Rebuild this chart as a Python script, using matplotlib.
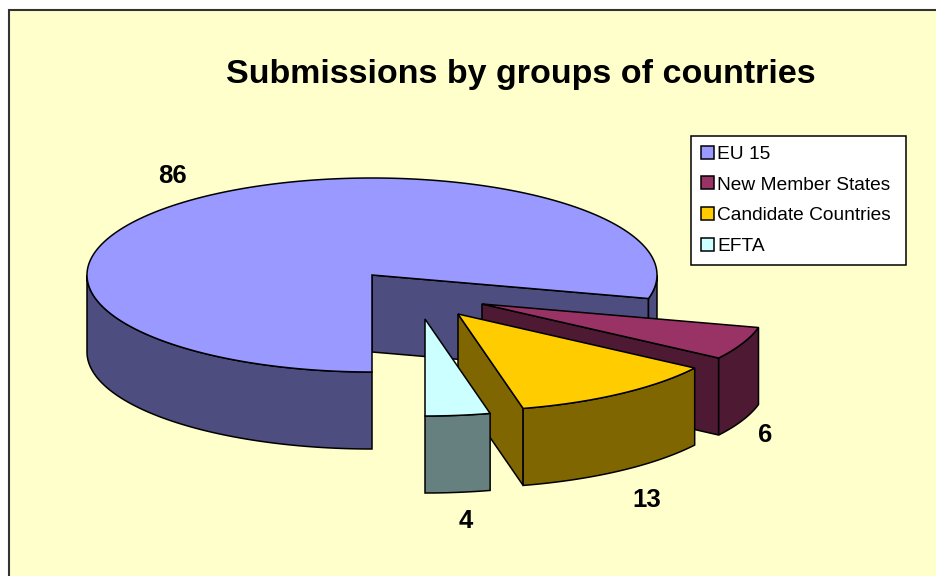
import numpy as np
import matplotlib
matplotlib.use('Agg')
import matplotlib.pyplot as plt
from matplotlib.patches import Polygon, Rectangle, Patch

plt.rcParams['font.family'] = ['Liberation Sans', 'DejaVu Sans']

# datos del grafico
grupos = ['EU 15', 'New Member States', 'Candidate Countries', 'EFTA']
valores = [86, 6, 13, 4]
colores_top = ['#9999FF', '#993366', '#FFCC00', '#CCFFFF']
colores_lado = ['#4D4D80', '#4D1933', '#806600', '#668080']

# desplazamiento de cada porcion respecto al centro (pixeles)
despl_x = [0, 110, 86, 53]
despl_y = [0, 29, 39, 44]
etiq_x = [172, 765, 647, 466]
etiq_y = [176, 435, 500, 521]

# geometria del pie en perspectiva
cx, cy = 372, 275
rx, ry = 285, 97
prof = 77
inicio = 180  # grados en sentido horario desde el norte


def punto(ang, ox, oy):
    a = np.radians(ang)
    return cx + ox + rx * np.sin(a), cy + oy - ry * np.cos(a)


def arco(a0, a1, ox, oy):
    angs = np.linspace(a0, a1, max(int(abs(a1 - a0)) * 2, 2))
    x, y = punto(angs, ox, oy)
    return np.column_stack([x, y])


def poner(ax, pts, color):
    ax.add_patch(Polygon(pts, closed=True, facecolor=color, edgecolor='black',
                         linewidth=1.1, joinstyle='miter'))


def porcion(ax, a0, a1, ox, oy, top, lado):
    apice = np.array([cx + ox, cy + oy])
    abajo = np.array([0, prof])
    # paredes radiales
    for ang, signo in [(a0, -1), (a1, 1)]:
        if signo * np.sin(np.radians(ang)) > 1e-6:
            borde = np.array(punto(ang, ox, oy))
            poner(ax, [apice, borde, borde + abajo, apice + abajo], lado)
    # pared exterior, solo la parte que mira al frente
    for k in [-1, 0, 1, 2]:
        v0, v1 = max(a0, 90 + 360 * k), min(a1, 270 + 360 * k)
        if v1 > v0:
            arriba = arco(v0, v1, ox, oy)
            poner(ax, np.vstack([arriba, (arriba + abajo)[::-1]]), lado)
    poner(ax, np.vstack([apice, arco(a0, a1, ox, oy)]), top)


fig = plt.figure(figsize=(9.37, 5.76), dpi=100, facecolor='white')
ax = fig.add_axes([0, 0, 1, 1])
ax.set_xlim(0, 937)
ax.set_ylim(576, 0)
ax.axis('off')

ax.add_patch(Rectangle((9, 10), 960, 600, facecolor='#FFFFCC', edgecolor='#333333', linewidth=1.5))

ax.text(521, 74, 'Submissions by groups of countries', fontsize=24.45, fontweight='bold',
        ha='center', va='center', color='black')

angulo = inicio
for i in range(len(valores)):
    paso = valores[i] / sum(valores) * 360
    porcion(ax, angulo, angulo + paso, despl_x[i], despl_y[i], colores_top[i], colores_lado[i])
    angulo += paso

for i in range(len(valores)):
    ax.text(etiq_x[i], etiq_y[i], str(valores[i]), fontsize=18.5, fontweight='bold',
            ha='center', va='center', color='black')

handles = [Patch(facecolor=c, edgecolor='black', linewidth=1.1) for c in colores_top]
ley = ax.legend(handles, grupos, loc='upper left',
                bbox_to_anchor=(691 / 937, 1 - 265 / 576, 215 / 937, 129 / 576),
                bbox_transform=fig.transFigure, mode='expand', borderaxespad=0, fontsize=13.8,
                frameon=True, fancybox=False, framealpha=1, edgecolor='black',
                handlelength=0.68, handleheight=0.68, handletextpad=0.2,
                labelspacing=0.7, borderpad=0.5)
ley.get_frame().set_linewidth(1.1)

fig.savefig('out.png', dpi=100)
